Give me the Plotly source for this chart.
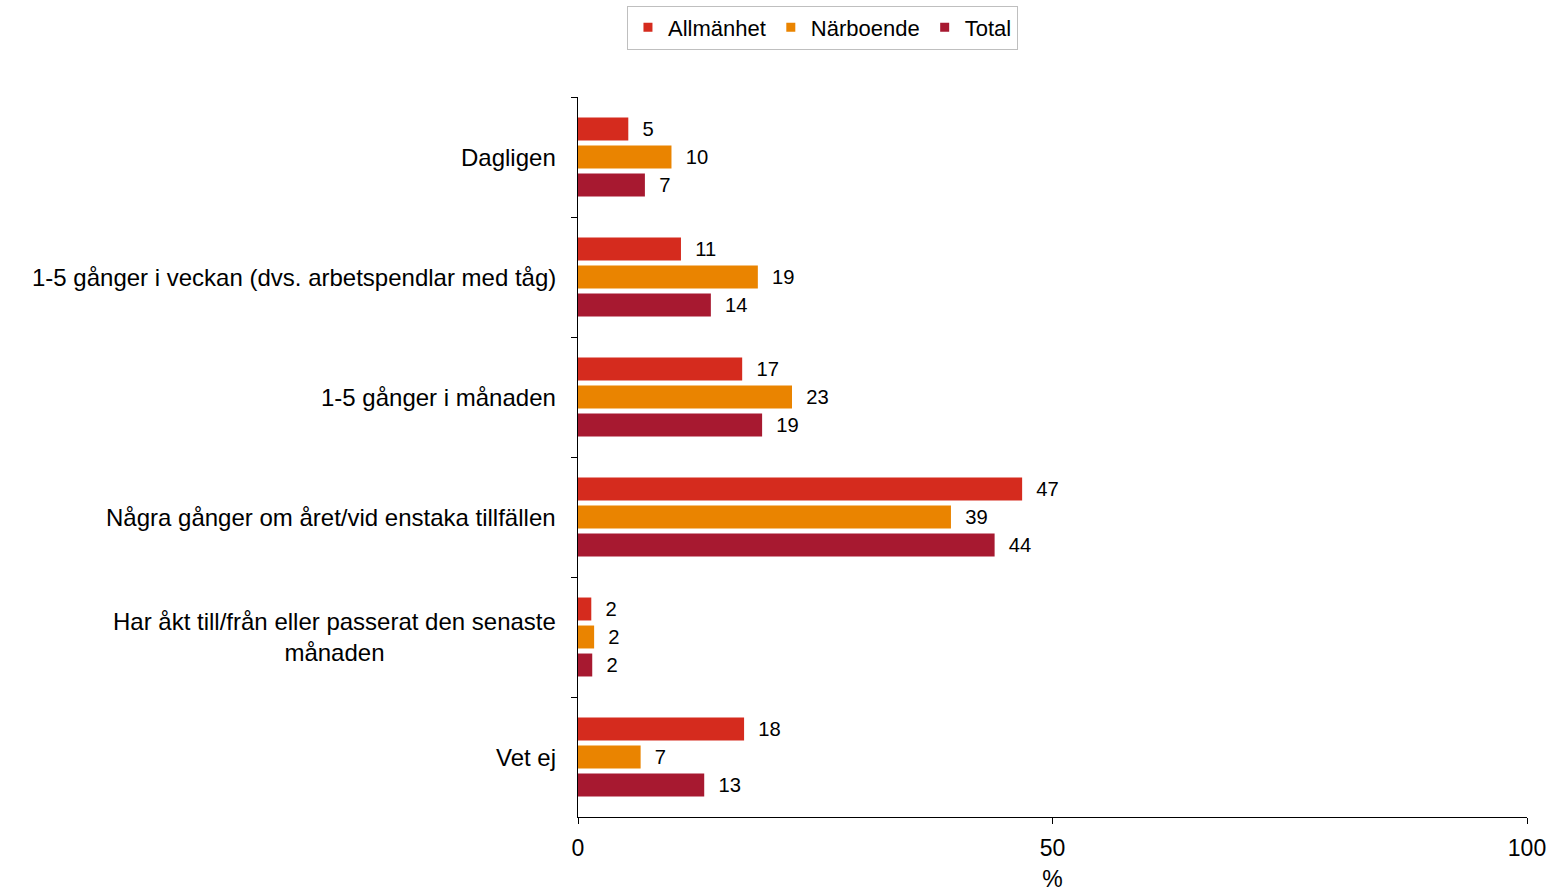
import plotly.graph_objects as go

categories = [
    "Dagligen",
    "1-5 gånger i veckan (dvs. arbetspendlar med tåg)",
    "1-5 gånger i månaden",
    "Några gånger om året/vid enstaka tillfällen",
    "Har åkt till/från eller passerat den senaste<br>månaden",
    "Vet ej",
]
series_names = ["Allmänhet", "Närboende", "Total"]
allmanhet = [5.3, 10.85, 17.3, 46.8, 1.4, 17.5]
narboende = [9.85, 18.95, 22.55, 39.3, 1.7, 6.6]
total = [7.05, 14.0, 19.4, 43.9, 1.5, 13.3]
allmanhet_labels = ["5", "11", "17", "47", "2", "18"]
narboende_labels = ["10", "19", "23", "39", "2", "7"]
total_labels = ["7", "14", "19", "44", "2", "13"]
x_ticks = [0, 50, 100]

colors = ["#D52B1E", "#EA8400", "#A71930"]
FONT = "Liberation Sans, Arial, sans-serif"

fig = go.Figure()
series = [allmanhet, narboende, total]
labels = [allmanhet_labels, narboende_labels, total_labels]
for name, vals, lbls, col in zip(series_names, series, labels, colors):
    fig.add_trace(go.Bar(
        y=categories, x=vals, orientation="h", name=name,
        marker=dict(color=col, line=dict(width=0)),
        text=["\u00a0\u00a0" + t for t in lbls],
        textposition="outside", cliponaxis=False,
        textfont=dict(family=FONT, size=22, color="#000000"),
        showlegend=False, hoverinfo="skip",
    ))
# legend entries with small square markers
for name, col in zip(series_names, colors):
    fig.add_trace(go.Scatter(
        x=[None], y=[None], mode="markers", name=name,
        marker=dict(symbol="square", size=9, color=col),
        showlegend=True,
    ))

for cat in categories:
    fig.add_annotation(
        x=0, xref="paper", y=cat, yref="y",
        text=cat, showarrow=False, xanchor="right", yanchor="middle",
        align="center", xshift=-20,
        font=dict(family=FONT, size=24, color="#000000"),
    )

fig.update_layout(
    width=1554, height=892,
    margin=dict(l=578, r=27, t=97, b=75, autoexpand=False),
    paper_bgcolor="white", plot_bgcolor="white",
    barmode="group", bargap=0.3, bargroupgap=0.18,
    font=dict(family=FONT, size=23, color="#000000"),
    legend=dict(
        orientation="h", x=0.2576, xanchor="center", y=1.127, yanchor="top",
        bordercolor="#BFBFBF", borderwidth=1,
        font=dict(family=FONT, size=22, color="#000000"),
        itemwidth=30, tracegroupgap=0,
    ),
    xaxis=dict(
        range=[0, 100], tickvals=x_ticks, ticktext=[str(v) for v in x_ticks],
        showgrid=False, zeroline=False, showline=True, linecolor="#000000",
        linewidth=1, ticks="outside", ticklen=6, tickcolor="#000000",
        tickfont=dict(family=FONT, size=23), automargin=False,
        ticklabelstandoff=4,
        title=dict(text="%", standoff=19, font=dict(family=FONT, size=23)),
    ),
    yaxis=dict(
        autorange="reversed", showgrid=False, zeroline=False,
        showline=True, linecolor="#000000", linewidth=1,
        ticks="outside", ticklen=6, tickcolor="#000000", tickson="boundaries",
        showticklabels=False, automargin=False,
    ),
)

fig.write_html("out.html", config={"displayModeBar": False},
               post_script="document.body.style.margin='0';")
